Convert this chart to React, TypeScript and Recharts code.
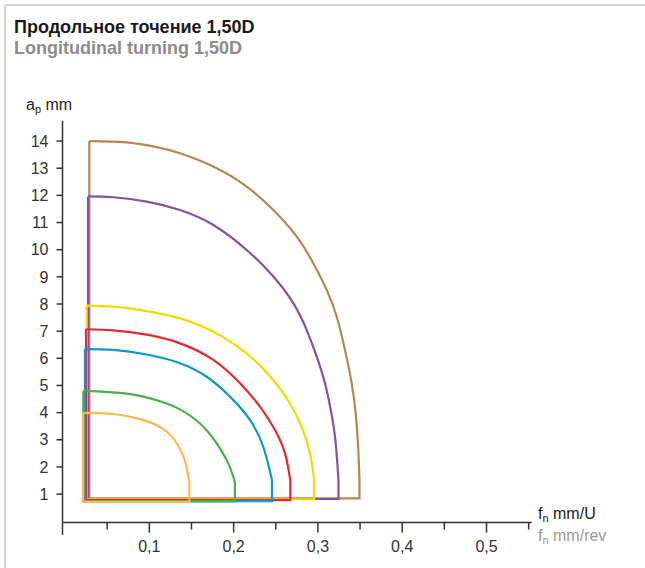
import React from 'react';
import { LineChart, Line, XAxis, YAxis, ReferenceLine } from 'recharts';

// f (mm/rev), ap (mm)
const brownArc = [
  [0.0288, 14.0], [0.073, 13.95], [0.1127, 13.75], [0.1364, 13.55], [0.1759, 13.06],
  [0.2155, 12.32], [0.2471, 11.46], [0.2749, 10.48], [0.2945, 9.5], [0.3104, 8.52],
  [0.3223, 7.53], [0.3321, 6.31], [0.3401, 5.08], [0.3452, 3.85], [0.3479, 2.62],
  [0.3493, 1.52],
];
const purpleArc = [
  [0.0273, 11.96], [0.0573, 11.93], [0.0969, 11.77], [0.1364, 11.46], [0.1759, 10.91],
  [0.2155, 9.99], [0.2471, 9.01], [0.2708, 8.03], [0.2867, 7.04], [0.2986, 6.06],
  [0.3084, 5.08], [0.3152, 4.1], [0.3203, 3.11], [0.323, 2.13], [0.3244, 1.52],
];
const yellowArc = [
  [0.0257, 7.94], [0.0573, 7.9], [0.0969, 7.74], [0.1364, 7.47], [0.1759, 6.98],
  [0.2155, 6.18], [0.2471, 5.2], [0.2669, 4.34], [0.2808, 3.48], [0.2906, 2.5],
  [0.2956, 1.52],
];
const redArc = [
  [0.0249, 7.07], [0.0573, 7.03], [0.0969, 6.87], [0.1364, 6.55], [0.1759, 5.94],
  [0.2076, 5.08], [0.2313, 4.22], [0.2491, 3.36], [0.261, 2.5], [0.2672, 1.52],
];
const blueArc = [
  [0.0237, 6.34], [0.0573, 6.31], [0.0969, 6.14], [0.1364, 5.82], [0.1681, 5.32],
  [0.1957, 4.59], [0.2194, 3.73], [0.2352, 2.74], [0.2455, 1.52],
];
const greenArc = [
  [0.0217, 4.8], [0.0751, 4.69], [0.1147, 4.4], [0.1364, 4.12], [0.1601, 3.6],
  [0.1799, 2.87], [0.1937, 2.13], [0.2015, 1.45],
];
const orangeArc = [
  [0.0214, 3.99], [0.0573, 3.95], [0.089, 3.76], [0.1127, 3.47], [0.1285, 3.05],
  [0.1392, 2.48], [0.1445, 1.95], [0.1475, 1.4],
];

// lower edge of each field (ap)
const bottoms = { brown: 0.84, purple: 0.82, yellow: 0.81, red: 0.78, blue: 0.74, green: 0.73, orange: 0.71 };

const xTicks = [0.05, 0.1, 0.15, 0.2, 0.25, 0.3, 0.35, 0.4, 0.45, 0.5, 0.55];
const xMajor = [0.1, 0.2, 0.3, 0.4, 0.5];
const yTicks = [1, 2, 3, 4, 5, 6, 7, 8, 9, 10, 11, 12, 13, 14];

const series = [
  { name: 'brown', color: '#B8874F', arc: brownArc, bottom: bottoms.brown },
  { name: 'purple', color: '#8451A6', arc: purpleArc, bottom: bottoms.purple },
  { name: 'yellow', color: '#F5DA00', arc: yellowArc, bottom: bottoms.yellow },
  { name: 'red', color: '#E42A2D', arc: redArc, bottom: bottoms.red },
  { name: 'blue', color: '#0C97D0', arc: blueArc, bottom: bottoms.blue },
  { name: 'green', color: '#47B14B', arc: greenArc, bottom: bottoms.green },
  { name: 'orange', color: '#FDB851', arc: orangeArc, bottom: bottoms.orange },
];

const FONT = '"Liberation Sans", Arial, sans-serif';
const AXIS = '#333';

const fmt = (v: number) => v.toFixed(1).replace('.', ',');

const XTick = (props: any) => {
  const { x, y, payload } = props;
  const major = xMajor.some((m) => Math.abs(m - payload.value) < 1e-6);
  return (
    <g>
      <line x1={x} x2={x} y1={y} y2={y + (major ? 10 : 7)} stroke={AXIS} strokeWidth={1.5} />
      {major && (
        <text x={x} y={y + 29} textAnchor="middle" fontSize={16} fontFamily={FONT} fill="#333">
          {fmt(payload.value)}
        </text>
      )}
    </g>
  );
};

const App = () => {
  const lines = series.map((s) => {
    const arc = s.arc.map(([f, ap]) => ({ f, ap }));
    const first = arc[0];
    const last = arc[arc.length - 1];
    const box = [
      { f: last.f, ap: last.ap },
      { f: last.f, ap: s.bottom },
      { f: first.f, ap: s.bottom },
      { f: first.f, ap: first.ap },
    ];
    return { ...s, arcData: arc, boxData: box };
  });

  return (
    <div style={{ position: 'fixed', left: 0, top: 0, width: 645, height: 568, background: '#fff' }}>
      <svg width={645} height={568} style={{ position: 'absolute', left: 0, top: 0 }}>
        <line x1={5} y1={5} x2={645} y2={5} stroke="#c8c8c8" strokeWidth={1.5} />
        <line x1={5} y1={5} x2={5} y2={568} stroke="#c8c8c8" strokeWidth={1.5} />
        <text x={14} y={33} fontFamily={FONT} fontWeight="bold" fontSize={18} fill="#1a1a1a">
          Продольное точение 1,50D
        </text>
        <text x={14} y={54} fontFamily={FONT} fontWeight="bold" fontSize={18} fill="#8c8c8c">
          Longitudinal turning 1,50D
        </text>
        <text x={26} y={110} fontFamily={FONT} fontSize={16} fill="#222">
          a<tspan fontSize={11} dy={3}>p</tspan>
          <tspan dy={-3}> mm</tspan>
        </text>
        <text x={538} y={519} fontFamily={FONT} fontSize={16} fill="#222">
          f<tspan fontSize={11} dy={3}>n</tspan>
          <tspan dy={-3}> mm/U</tspan>
        </text>
        <text x={538} y={541} fontFamily={FONT} fontSize={16} fill="#999">
          f<tspan fontSize={11} dy={3}>n</tspan>
          <tspan dy={-3}> mm/rev</tspan>
        </text>
      </svg>
      <div style={{ position: 'absolute', left: 0, top: 0 }}>
        <LineChart
          width={645}
          height={568}
          margin={{ top: 120.7, right: 113.3, bottom: 15.4, left: 22.5 }}
        >
          <XAxis
            type="number"
            dataKey="f"
            domain={[-0.003, 0.5536]}
            allowDataOverflow
            ticks={xTicks}
            tick={XTick}
            tickLine={false}
            tickSize={0}
            tickMargin={0}
            height={30}
            axisLine={{ stroke: AXIS, strokeWidth: 1.5 }}
          />
          <YAxis
            type="number"
            dataKey="ap"
            domain={[-0.05, 14.75]}
            allowDataOverflow
            ticks={yTicks}
            width={40}
            tickSize={6}
            tickMargin={8}
            tickLine={{ stroke: AXIS, strokeWidth: 1.5 }}
            axisLine={{ stroke: AXIS, strokeWidth: 1.5 }}
            tick={{ fontSize: 16, fontFamily: FONT, fill: '#333' }}
          />
          <ReferenceLine
            segment={[{ x: -0.003, y: -0.05 }, { x: -0.003, y: -0.5 }]}
            stroke={AXIS}
            strokeWidth={1.5}
            ifOverflow="visible"
          />
          {lines.map((s) => (
            <Line
              key={`${s.name}-box`}
              data={s.boxData}
              dataKey="ap"
              type="linear"
              stroke={s.color}
              strokeWidth={2.2}
              dot={false}
              isAnimationActive={false}
            />
          ))}
          {lines.map((s) => (
            <Line
              key={`${s.name}-arc`}
              data={s.arcData}
              dataKey="ap"
              type="natural"
              stroke={s.color}
              strokeWidth={2.2}
              dot={false}
              isAnimationActive={false}
            />
          ))}
        </LineChart>
      </div>
    </div>
  );
};

export default App;
